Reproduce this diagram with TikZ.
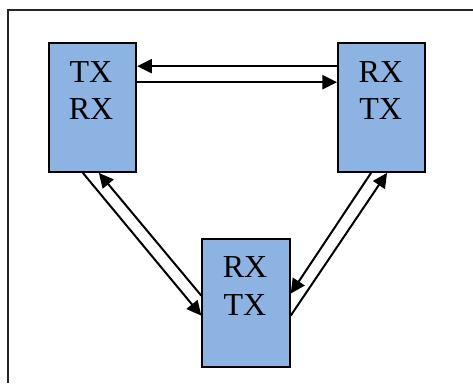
\documentclass[tikz,border=0pt]{standalone}
\usepackage{fontspec}
\setmainfont{Liberation Serif}
\usetikzlibrary{calc,arrows.meta}
\definecolor{boxblue}{HTML}{8DB3E2}
\tikzset{
  unitbox/.style={draw=black, fill=boxblue, line width=1.5pt, inner sep=0pt,
    minimum width=65.5pt, minimum height=96.5pt},
  boxtext/.style={anchor=north, inner sep=0pt, align=center,
    font=\fontsize{24pt}{28pt}\selectfont},
  link/.style={line width=1.5pt, -{Triangle[length=11pt,width=10.5pt]}},
  frameline/.style={draw=black!85, line width=1.5pt}
}
\begin{document}
\begin{tikzpicture}[x=0.75pt, y=-0.75pt]
  \useasboundingbox (0,0) rectangle (473,383);
  % page frame (top and left edges)
  \draw[frameline] (473,9.5) -- (7.5,9.5) -- (7.5,383);

  % the three stations
  \node[unitbox] (L) at (92.5,107.5) {};
  \node[unitbox] (R) at (381.75,107.5) {};
  \node[unitbox] (B) at (246,303) {};

  \node[boxtext] (Lt) at ($(L.north)+(-1.5,19)$) {TX\\RX};
  \node[boxtext] (Rt) at ($(R.north)+(-1,19)$) {RX\\TX};
  \node[boxtext] (Bt) at ($(B.north)+(-1,19)$) {RX\\TX};

  % links between left and right stations
  \draw[link] ($(R.north west)+(0,24)$) -- ($(L.north east)+(0,24)$);
  \draw[link] ($(L.north east)+(0,40)$) -- ($(R.north west)+(0,40)$);

  % links between left and bottom stations
  \draw[link] ($(L.south west)+(35,0)$) -- ($(B.north west)+(0,78)$);
  \draw[link] ($(B.north west)+(0,58)$) -- ($(L.south west)+(51,0)$);

  % links between right and bottom stations
  \draw[link] ($(R.south west)+(34,0)$) -- ($(B.north east)+(0,56)$);
  \draw[link] ($(B.north east)+(0,78)$) -- ($(R.south west)+(50,0)$);
\end{tikzpicture}
\end{document}
